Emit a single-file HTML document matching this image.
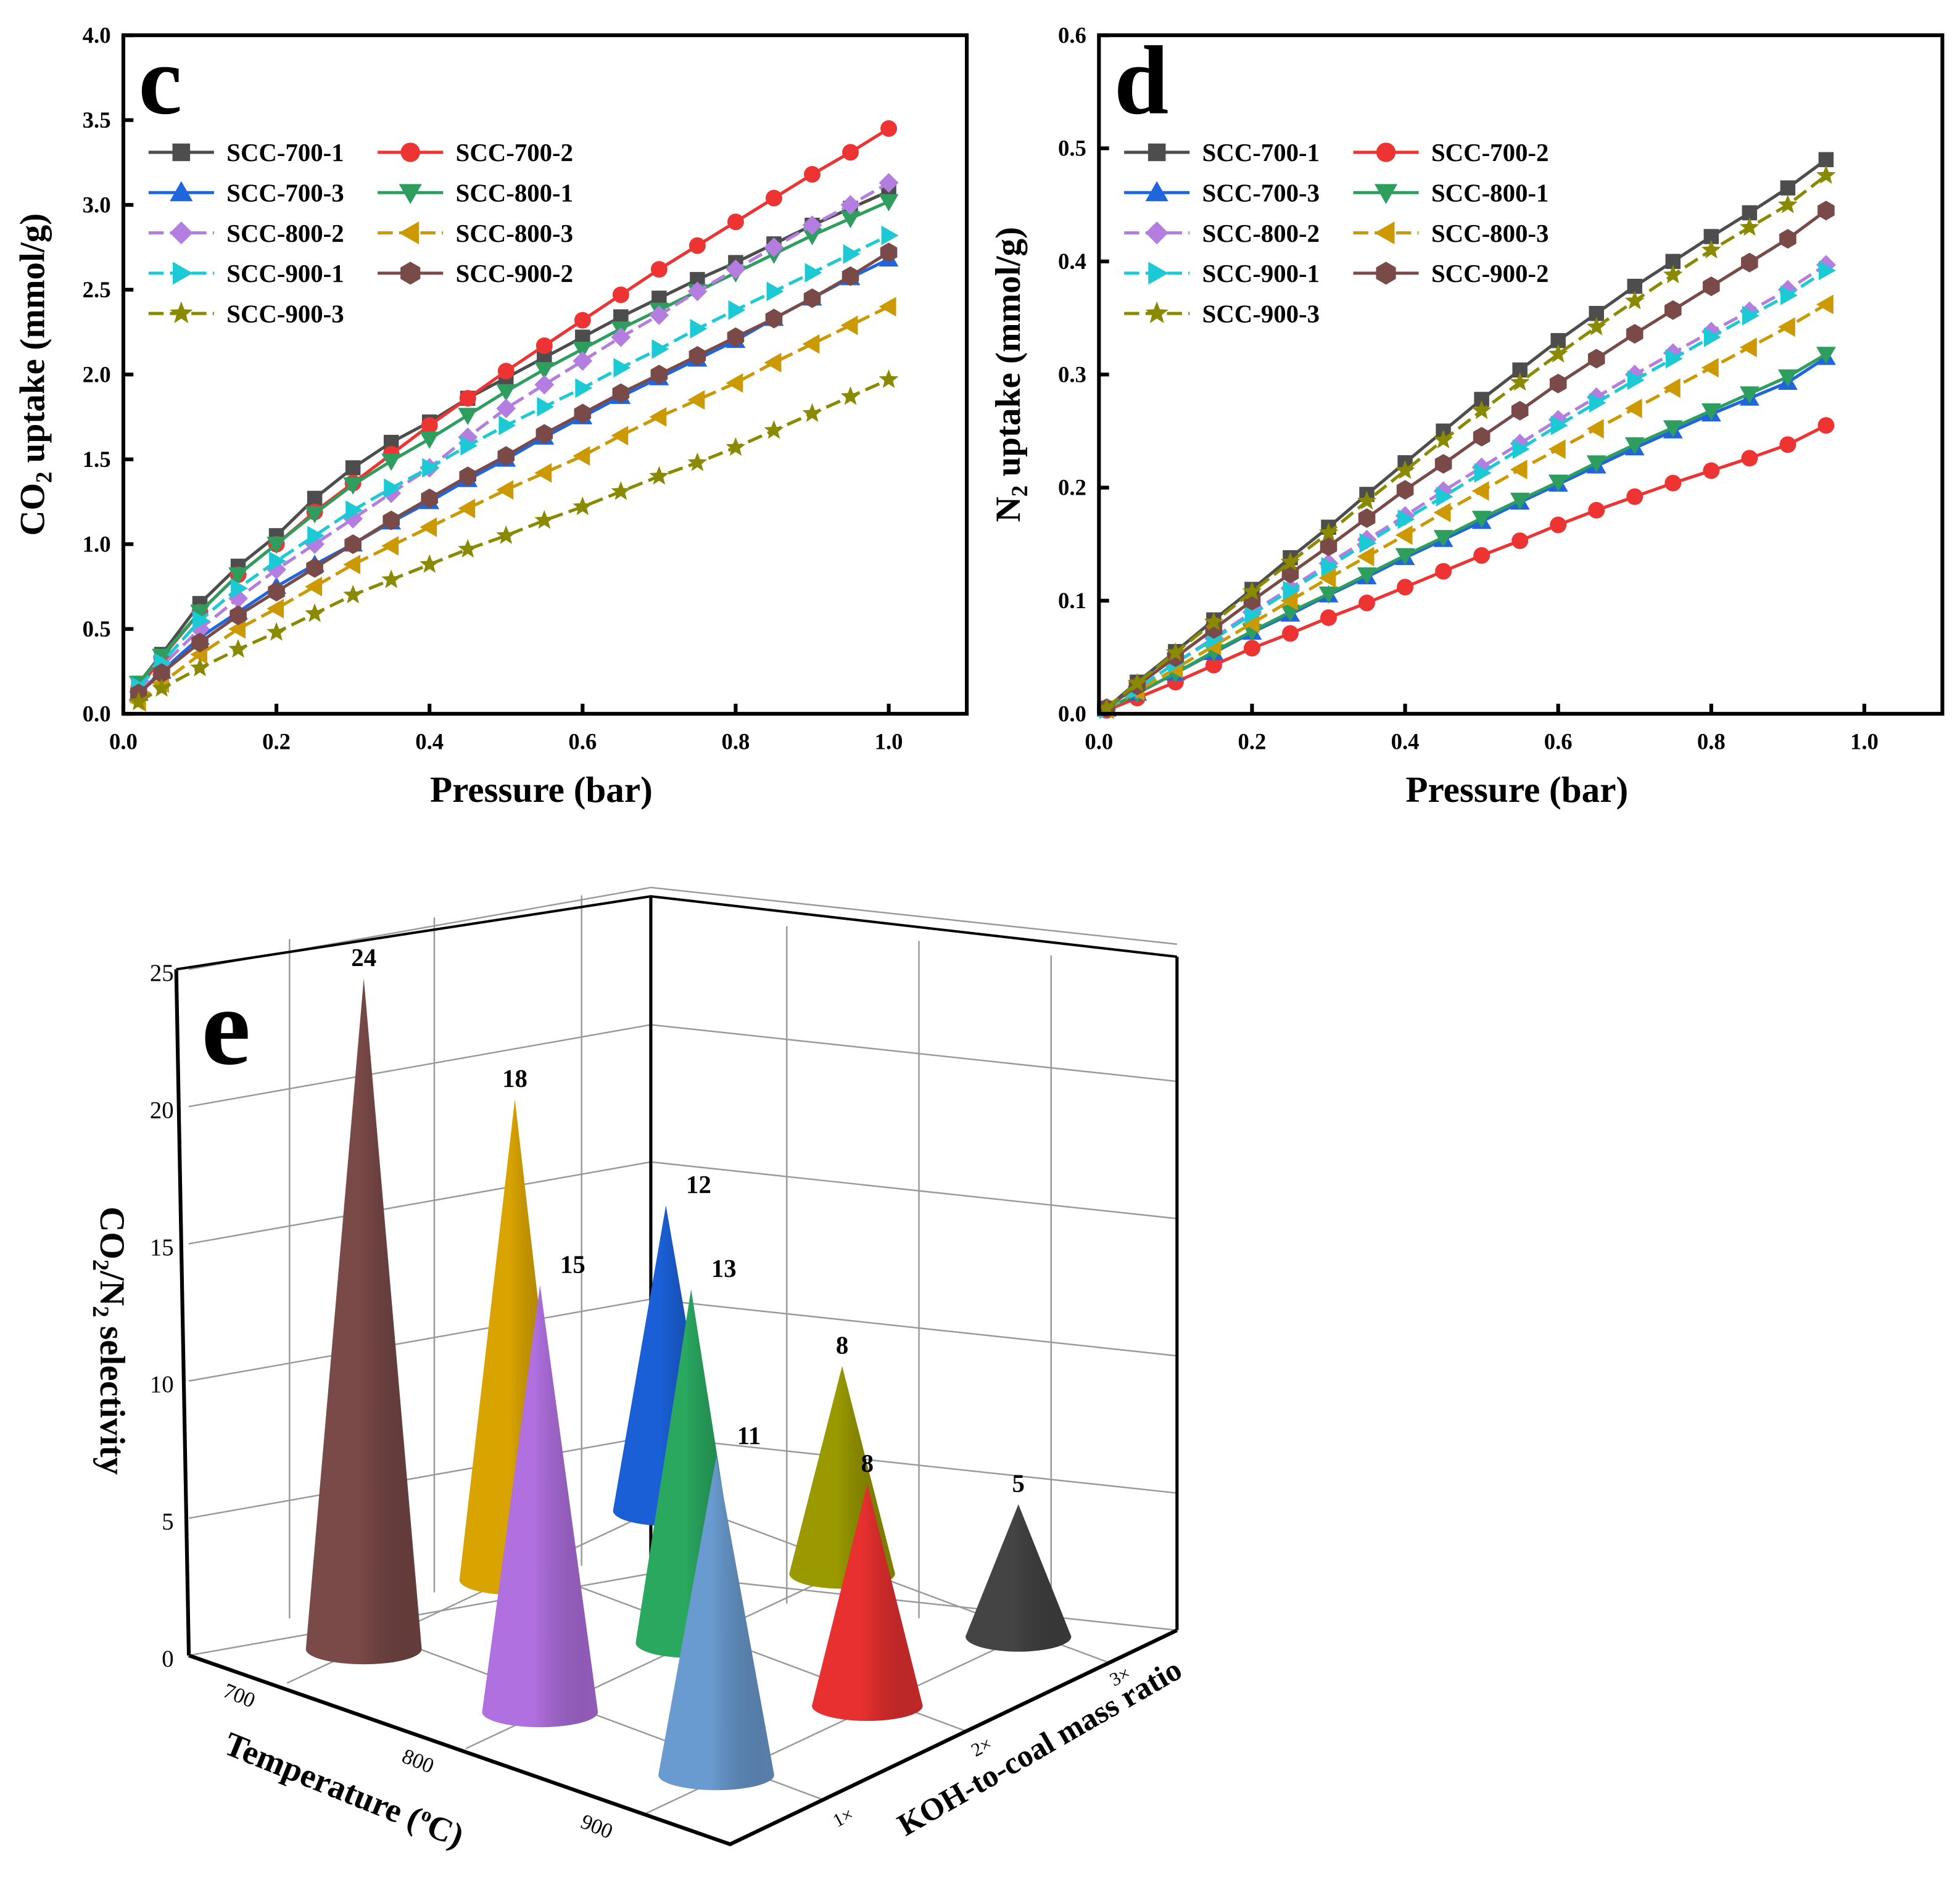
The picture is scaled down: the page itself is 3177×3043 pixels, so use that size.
<!DOCTYPE html>
<html><head><meta charset="utf-8"><style>
html,body{margin:0;padding:0;background:#fff;}
svg{display:block;font-family:"Liberation Serif",serif;font-weight:bold;}
</style></head><body>
<svg id="fig" width="3177" height="3043" viewBox="0 0 1557 1491" preserveAspectRatio="none" xmlns="http://www.w3.org/2000/svg"></svg>
<script>
// ---------- Panel c/d data ----------
const seriesNames = ["SCC-700-1","SCC-700-2","SCC-700-3","SCC-800-1","SCC-800-2","SCC-800-3","SCC-900-1","SCC-900-2","SCC-900-3"];
const seriesColors = ["#4d4d4d","#ee3333","#1f66dd","#2e9e5e","#b47ee0","#cc9900","#1ccad6","#7a4a48","#8a8a00"];
const seriesMarkers = ["square","circle","up","down","diamond","left","right","hex","star"];
const seriesDash = [false,false,false,false,true,true,true,false,true];
const pressureC = [0.02,0.05,0.1,0.15,0.2,0.25,0.3,0.35,0.4,0.45,0.5,0.55,0.6,0.65,0.7,0.75,0.8,0.85,0.9,0.95,1.0];
const co2_700_1 = [.18,.35,.65,.87,1.05,1.27,1.45,1.60,1.72,1.86,1.98,2.10,2.22,2.34,2.45,2.56,2.66,2.77,2.88,2.98,3.08];
const co2_700_2 = [.15,.33,.60,.82,1.00,1.19,1.36,1.53,1.70,1.86,2.02,2.17,2.32,2.47,2.62,2.76,2.90,3.04,3.18,3.31,3.45];
const co2_700_3 = [.12,.25,.45,.60,.75,.88,1.00,1.13,1.25,1.38,1.50,1.63,1.75,1.87,1.98,2.09,2.20,2.33,2.45,2.57,2.68];
const co2_800_1 = [.18,.34,.60,.82,1.00,1.18,1.35,1.49,1.62,1.76,1.90,2.03,2.15,2.27,2.38,2.49,2.60,2.71,2.82,2.92,3.02];
const co2_800_2 = [.13,.28,.50,.68,.85,1.00,1.15,1.30,1.45,1.63,1.80,1.94,2.08,2.22,2.35,2.49,2.62,2.75,2.88,3.00,3.13];
const co2_800_3 = [.07,.18,.35,.50,.62,.75,.88,.99,1.10,1.21,1.32,1.42,1.52,1.64,1.75,1.85,1.95,2.07,2.18,2.29,2.40];
const co2_900_1 = [.16,.30,.55,.74,.90,1.05,1.20,1.33,1.45,1.58,1.70,1.81,1.92,2.04,2.15,2.27,2.38,2.49,2.60,2.71,2.82];
const co2_900_2 = [.12,.24,.42,.58,.72,.86,1.00,1.14,1.27,1.40,1.52,1.65,1.77,1.89,2.00,2.11,2.22,2.33,2.45,2.58,2.72];
const co2_900_3 = [.07,.15,.27,.38,.48,.59,.70,.79,.88,.97,1.05,1.14,1.22,1.31,1.40,1.48,1.57,1.67,1.77,1.87,1.97];
const co2Data = [co2_700_1,co2_700_2,co2_700_3,co2_800_1,co2_800_2,co2_800_3,co2_900_1,co2_900_2,co2_900_3];
const pressureD = [0.01,0.05,0.1,0.15,0.2,0.25,0.3,0.35,0.4,0.45,0.5,0.55,0.6,0.65,0.7,0.75,0.8,0.85,0.9,0.95];
const n2_700_1 = [.005,.028,.055,.083,.11,.138,.165,.194,.222,.25,.278,.304,.33,.354,.378,.40,.422,.443,.465,.49];
const n2_700_2 = [.003,.014,.028,.043,.058,.071,.085,.098,.112,.126,.14,.153,.167,.18,.192,.204,.215,.226,.238,.255];
const n2_700_3 = [.004,.018,.036,.054,.072,.088,.105,.121,.138,.154,.17,.187,.203,.219,.235,.25,.265,.279,.293,.315];
const n2_800_1 = [.004,.018,.036,.055,.073,.09,.106,.123,.14,.156,.173,.189,.205,.222,.238,.253,.268,.283,.298,.318];
const n2_800_2 = [.004,.022,.045,.067,.09,.111,.133,.154,.175,.197,.218,.239,.26,.28,.30,.319,.338,.356,.375,.397];
const n2_800_3 = [.004,.02,.04,.06,.08,.10,.12,.139,.158,.178,.197,.216,.234,.252,.27,.288,.306,.324,.342,.362];
const n2_900_1 = [.004,.022,.045,.066,.088,.109,.13,.151,.172,.192,.213,.234,.255,.275,.295,.314,.333,.352,.37,.392];
const n2_900_2 = [.005,.025,.05,.075,.10,.124,.148,.173,.198,.221,.245,.268,.292,.314,.336,.357,.378,.399,.42,.445];
const n2_900_3 = [.005,.027,.054,.081,.108,.134,.16,.188,.215,.242,.268,.293,.318,.342,.365,.388,.41,.43,.45,.476];
const n2Data = [n2_700_1,n2_700_2,n2_700_3,n2_800_1,n2_800_2,n2_800_3,n2_900_1,n2_900_2,n2_900_3];
const xTicks = ["0.0","0.2","0.4","0.6","0.8","1.0"];
const yTicksC = ["0.0","0.5","1.0","1.5","2.0","2.5","3.0","3.5","4.0"];
const yTicksD = ["0.0","0.1","0.2","0.3","0.4","0.5","0.6"];
// ---------- Panel e data ----------
const tempLabels = ["700","800","900"];
const ratioLabels = ["1×","2×","3×"];
const zTicks = ["0","5","10","15","20","25"];
const selTemp = [0,1,2,0,1,2,0,1,2];
const selRatio = [0,0,0,1,1,1,2,2,2];
const selValues = [24,15,11,18,13,8,12,8,5];
const selColors = ["#7a4a48","#b070e0","#6a9bd0","#d9a400","#2aa860","#e83030","#1a5fd6","#9a9a00","#444444"];

const svg = document.getElementById('fig');
const NS = "http://www.w3.org/2000/svg";
function mk(tag, attrs, parent){const e=document.createElementNS(NS,tag);for(const k in attrs)e.setAttribute(k,attrs[k]);(parent||svg).appendChild(e);return e;}
function txt(s, attrs, parent){const e=mk('text',attrs,parent);e.textContent=s;return e;}

function marker(g, type, cx, cy, r, color){
  let e;
  if(type==="square") e=mk('rect',{x:cx-r,y:cy-r,width:2*r,height:2*r,fill:color},g);
  else if(type==="circle") e=mk('circle',{cx:cx,cy:cy,r:r*1.1,fill:color},g);
  else {
    let pts=[];
    const R=r*1.3;
    if(type==="up") pts=[[0,-R],[R,R*0.75],[-R,R*0.75]];
    if(type==="down") pts=[[0,R],[R,-R*0.75],[-R,-R*0.75]];
    if(type==="left") pts=[[-R,0],[R*0.75,-R],[R*0.75,R]];
    if(type==="right") pts=[[R,0],[-R*0.75,-R],[-R*0.75,R]];
    if(type==="diamond") pts=[[0,-R],[R,0],[0,R],[-R,0]];
    if(type==="hex") for(let i=0;i<6;i++){const a=Math.PI/6+i*Math.PI/3;pts.push([R*Math.cos(a),R*Math.sin(a)]);}
    if(type==="star") for(let i=0;i<10;i++){const a=-Math.PI/2+i*Math.PI/5;const rr=i%2?R*0.45:R*1.05;pts.push([rr*Math.cos(a),rr*Math.sin(a)]);}
    e=mk('polygon',{points:pts.map(p=>(cx+p[0])+","+(cy+p[1])).join(" "),fill:color},g);
  }
  return e;
}

function panel(cfg){
  const g=mk('g',{});
  
  
  const {x0,x1,y0,y1,xs,ymax}=cfg;
  const X=v=>x0+v*xs, Y=v=>y1-(v/ymax)*(y1-y0);
  for(let s=0;s<9;s++){
    const sg=mk('g',{},g);
    
    
    const d=cfg.data[s];
    const pts=cfg.px.map((p,i)=>X(p)+","+Y(d[i])).join(" ");
    const pl=mk('polyline',{points:pts,fill:"none",stroke:seriesColors[s],"stroke-width":2.5},sg);
    if(seriesDash[s]) pl.setAttribute('stroke-dasharray','12 5');
    cfg.px.forEach((p,i)=>{const m=marker(sg,seriesMarkers[s],X(p),Y(d[i]),6,seriesColors[s]);
      });
  }
  const fr=mk('rect',{x:x0,y:y0,width:x1-x0,height:y1-y0,fill:"none",stroke:"#000","stroke-width":3},g);
  
  xTicks.forEach((t,i)=>{const v=i*0.2;const x=X(v);
    mk('line',{x1:x,y1:y1,x2:x,y2:y1-8,stroke:"#000","stroke-width":3},g);
    const l=txt(t,{x:x,y:y1+28,"text-anchor":"middle","font-size":18},g);
    });
  cfg.yt.forEach((t,i)=>{const v=i*cfg.ystep;const y=Y(v);
    mk('line',{x1:x0,y1:y,x2:x0+8,y2:y,stroke:"#000","stroke-width":3},g);
    const l=txt(t,{x:x0-10,y:y+6,"text-anchor":"end","font-size":18},g);
    });
  const xt=txt("Pressure (bar)",{x:(x0+x1)/2-3,y:637,"text-anchor":"middle","font-size":29},g);
  
  const yt=mk('text',{transform:`translate(${x0-63},${(y0+y1)/2}) rotate(-90)`,"text-anchor":"middle","font-size":28},g);
  yt.innerHTML=cfg.ytitle;
  
  const pl=txt(cfg.letter,{x:x0+12,y:y0+62,"font-size":78},g);
  
  const lg=mk('g',{},g);
  
  for(let s=0;s<9;s++){
    const col=s%2,row=Math.floor(s/2);
    const lx=x0+20+col*182, ly=121+row*32;
    const eg=mk('g',{},lg);
    
    const ln=mk('line',{x1:lx,y1:ly,x2:lx+52,y2:ly,stroke:seriesColors[s],"stroke-width":2.5},eg);
    if(seriesDash[s]) ln.setAttribute('stroke-dasharray','12 5');
    marker(eg,seriesMarkers[s],lx+26,ly,7,seriesColors[s]);
    txt(seriesNames[s],{x:lx+62,y:ly+7,"font-size":20},eg);
  }
}
panel({name:"panel-c-co2-uptake",x0:98,x1:768,y0:28,y1:567,xs:608,ymax:4,ystep:0.5,yt:yTicksC,px:pressureC,data:co2Data,letter:"c",
  ytitle:'CO<tspan font-size="18" dy="6">2</tspan><tspan dy="-6"> uptake (mmol/g)</tspan>'});
panel({name:"panel-d-n2-uptake",x0:873,x1:1543,y0:28,y1:567,xs:608,ymax:0.6,ystep:0.1,yt:yTicksD,px:pressureD,data:n2Data,letter:"d",
  ytitle:'N<tspan font-size="18" dy="6">2</tspan><tspan dy="-6"> uptake (mmol/g)</tspan>'});

// ---------- Panel e ----------
const ge=mk('g',{});


const zpx=21.8;
const base=(t,k)=>[289+140*t+120*k, 1310+50*t-55*k];
const grid={stroke:"#999","stroke-width":1.2,fill:"none"};
for(let i=0;i<=5;i++){const dz=i*5*zpx;
  mk('line',Object.assign({x1:150,y1:1315-dz,x2:517,y2:1250-dz},grid),ge);
  mk('line',Object.assign({x1:517,y1:1250-dz,x2:935,y2:1295-dz},grid),ge);}
[230,345,462].forEach(x=>mk('line',Object.assign({x1:x,y1:1300-(x-150)*0.18,x2:x,y2:758-(x-150)*0.15},grid),ge));
[625,730,835].forEach(x=>mk('line',Object.assign({x1:x,y1:1262+(x-517)*0.11,x2:x,y2:724+(x-517)*0.11},grid),ge));
for(let t=0;t<3;t++){const a=[228+142*t,1337+52*t];mk('line',Object.assign({x1:a[0],y1:a[1],x2:a[0]+330,y2:a[1]-155},grid),ge);}
for(let k=0;k<3;k++){const a=[655+112*k,1430-55*k];mk('line',Object.assign({x1:a[0],y1:a[1],x2:a[0]-375,y2:a[1]-140},grid),ge);}
mk('polyline',{points:"150,1315 580,1465 935,1295",fill:"none",stroke:"#000","stroke-width":3},ge);
mk('polyline',{points:"140,770 150,1315",fill:"none",stroke:"#000","stroke-width":3},ge);
mk('polyline',{points:"517,712 517,1250",fill:"none",stroke:"#000","stroke-width":2.5},ge);
mk('polyline',{points:"935,760 935,1295",fill:"none",stroke:"#000","stroke-width":2.5},ge);
mk('polyline',{points:"140,770 517,712 935,760",fill:"none",stroke:"#000","stroke-width":2},ge);
zTicks.forEach((t,i)=>{const y=1318-i*5*zpx;
  const l=txt(t,{x:138,y:y+6,"text-anchor":"end","font-size":19,"font-weight":"normal"},ge);
  });
tempLabels.forEach((t,i)=>{const l=txt(t,{transform:`translate(${188+142*i},${1352+52*i}) rotate(22)`,"text-anchor":"middle","font-size":17,"font-weight":"normal"},ge);
  });
ratioLabels.forEach((t,i)=>{const l=txt(t,{transform:`translate(${672+110*i},${1448-56*i}) rotate(-28)`,"text-anchor":"middle","font-size":15,"font-weight":"normal"},ge);
  });
let tt=mk('text',{transform:"translate(270,1430) rotate(22)","text-anchor":"middle","font-size":27},ge);
tt.innerHTML='Temperature (<tspan font-size="16" dy="-10">o</tspan><tspan dy="10">C)</tspan>';

tt=txt("KOH-to-coal mass ratio",{transform:"translate(830,1395) rotate(-30)","text-anchor":"middle","font-size":25},ge);

tt=mk('text',{transform:"translate(80,1065) rotate(90)","text-anchor":"middle","font-size":28},ge);
tt.innerHTML='CO<tspan font-size="18" dy="6">2</tspan><tspan dy="-6">/N</tspan><tspan font-size="18" dy="6">2</tspan><tspan dy="-6"> selectivity</tspan>';

tt=txt("e",{x:160,y:845,"font-size":88},ge);

const order=[...selValues.keys()].sort((a,b)=>(selRatio[b]-selRatio[a])||(selTemp[a]-selTemp[b]));
const defs=mk('defs',{},ge);
order.forEach(i=>{
  const [bx,by]=base(selTemp[i],selRatio[i]);
  const unit=22.2-0.4*selTemp[i]*0-1.0*selRatio[i]+0.4*selTemp[i];
  const h=selValues[i]*unit, w=46-2*selRatio[i], ry=12;
  const gid='cg'+i;
  const lg=mk('linearGradient',{id:gid,x1:0,y1:0,x2:1,y2:0},defs);
  mk('stop',{offset:"0",'stop-color':selColors[i]},lg);
  mk('stop',{offset:"0.45",'stop-color':selColors[i]},lg);
  mk('stop',{offset:"1",'stop-color':"#000",'stop-opacity':0.35},lg);
  const cg=mk('g',{},ge);
  
  
  mk('path',{d:`M${bx-w},${by} L${bx},${by-h} L${bx+w},${by} A${w},${ry} 0 0 1 ${bx-w},${by} Z`,fill:selColors[i]},cg);
  mk('path',{d:`M${bx-w},${by} L${bx},${by-h} L${bx+w},${by} A${w},${ry} 0 0 1 ${bx-w},${by} Z`,fill:`url(#${gid})`,opacity:0.5},cg);
  const off=(selTemp[i]+selRatio[i]<=2 && !(selTemp[i]===0&&selRatio[i]<=1))?26:0;
  const lb=txt(String(selValues[i]),{x:bx+off,y:by-h-10,"text-anchor":"middle","font-size":20},cg);
  
});
</script>
</body></html>
